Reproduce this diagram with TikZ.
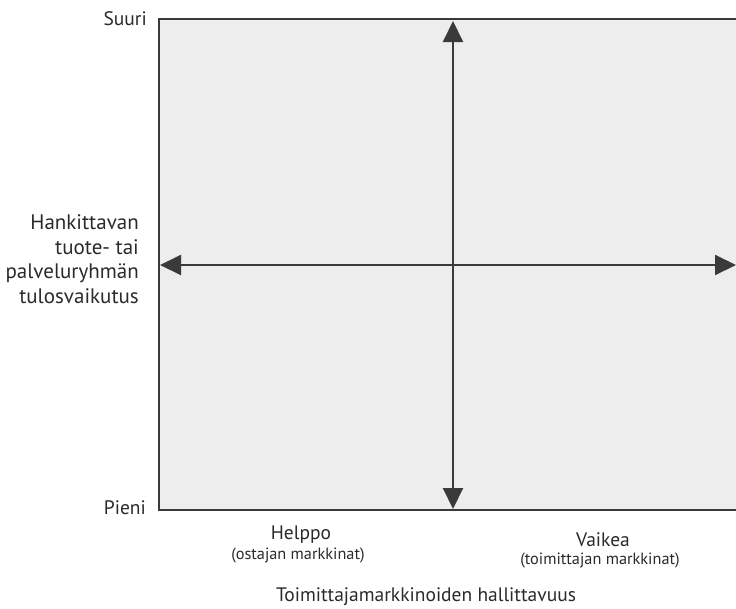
\documentclass[tikz,border=0pt]{standalone}
\usepackage{fontspec}
\setmainfont{PT Sans}
\usetikzlibrary{arrows.meta}
\definecolor{ink}{HTML}{3A3A3A}
\definecolor{panel}{HTML}{EDEDED}
\definecolor{txt}{HTML}{2A2A2A}
\tikzset{
  label/.style={text=txt, font=\fontsize{19.5}{24.5}\selectfont, inner sep=0pt},
  biglabel/.style={label, font=\fontsize{21}{24.5}\selectfont},
  sublabel/.style={text=txt, font=\fontsize{16.3}{19}\selectfont, inner sep=0pt},
  axis/.style={draw=ink, line width=2pt, {Triangle[width=20pt,length=21pt]}-{Triangle[width=20pt,length=21pt]}}
}
\begin{document}
\begin{tikzpicture}[x=1pt,y=-1pt]
  \useasboundingbox (0,0) rectangle (736,608);
  % grey matrix panel, open on the right
  \fill[panel] (159,19) rectangle (737,510);
  \draw[draw=ink, line width=2pt] (738,19) -- (159,19) -- (159,510) -- (738,510);
  % axis end points
  \coordinate (top) at (453,21);
  \coordinate (bottom) at (453,509);
  \coordinate (left) at (160,265);
  \coordinate (right) at (736,265);
  \draw[axis] (left) -- (right);
  \draw[axis] (bottom) -- (top);
  % vertical axis labels
  \node[label, anchor=east] (suuri) at (147,19) {Suuri};
  \node[label, anchor=east] (pieni) at (146,508) {Pieni};
  \node[biglabel, anchor=east, align=right] (yaxis) at (139,259)
    {Hankittavan\\tuote- tai\\palveluryhmän\\tulosvaikutus};
  % horizontal axis labels
  \node[label] (helppo) at (301,535) {Helppo};
  \node[sublabel] (ostajan) at (298,555) {(ostajan markkinat)};
  \node[label] (vaikea) at (603,540) {Vaikea};
  \node[sublabel] (toimittajan) at (600,560) {(toimittajan markkinat)};
  \node[label] (xaxis) at (426,597) {Toimittajamarkkinoiden hallittavuus};
\end{tikzpicture}
\end{document}
